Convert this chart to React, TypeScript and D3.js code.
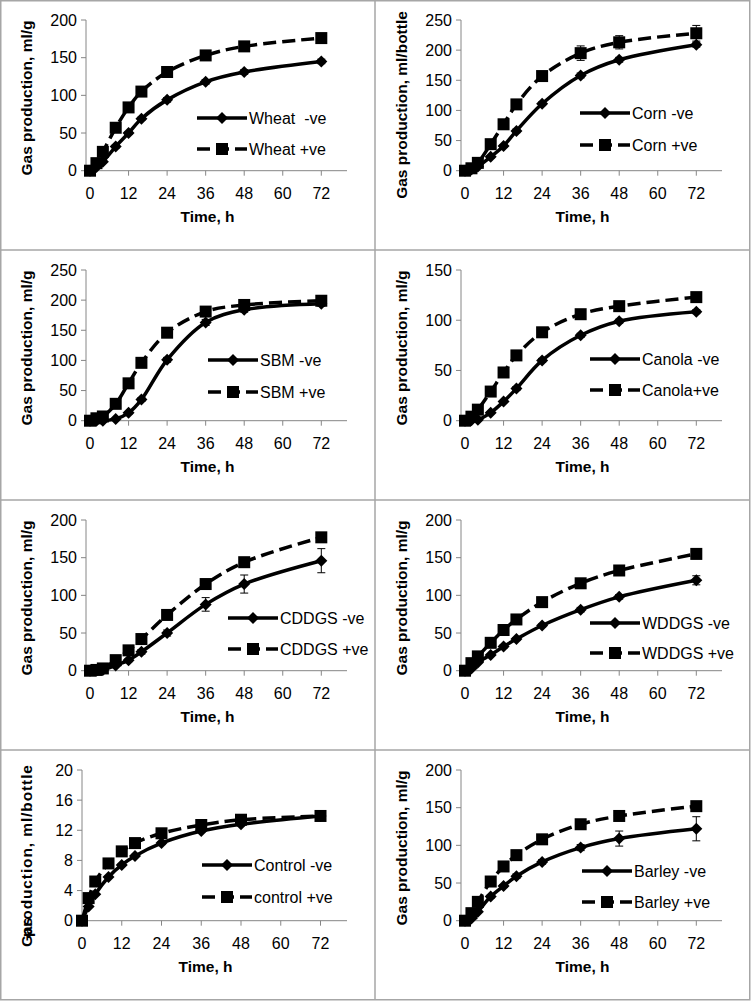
import React from "react";
import * as d3 from "d3";

const hours = [0, 2, 4, 8, 12, 16, 24, 36, 48, 72];
const xTicks = [0, 12, 24, 36, 48, 60, 72];

const wheatNeg = [0, 5, 12, 32, 50, 69, 94, 118, 131, 145];
const wheatPos = [0, 10, 25, 57, 84, 105, 131, 153, 165, 176];
const wheatNegErr = [0, 1, 1, 2, 2, 2, 3, 3, 3, 3];
const wheatPosErr = [0, 1, 1, 2, 2, 3, 3, 3, 3, 3];

const cornNeg = [0, 2, 7, 23, 41, 66, 111, 158, 184, 209];
const cornPos = [0, 4, 13, 44, 77, 110, 157, 195, 213, 228];
const cornNegErr = [0, 1, 1, 2, 2, 3, 3, 4, 4, 4];
const cornPosErr = [0, 1, 2, 3, 4, 5, 6, 12, 11, 13];

const sbmNeg = [0, 0, 0, 3, 13, 35, 101, 163, 184, 194];
const sbmPos = [0, 4, 7, 28, 62, 96, 146, 181, 192, 199];
const sbmNegErr = [0, 0, 0, 1, 2, 3, 4, 5, 4, 4];
const sbmPosErr = [0, 1, 1, 2, 3, 4, 4, 5, 4, 4];

const canolaNeg = [0, 0.5, 1, 8, 19, 32, 60, 85, 99, 108.5];
const canolaPos = [0, 4, 11, 29, 48, 65, 88, 106, 114, 123];
const canolaNegErr = [0, 0, 0, 1, 1, 2, 2, 2, 2, 2];
const canolaPosErr = [0, 1, 1, 1, 2, 2, 2, 2, 2, 3];

const cddgsNeg = [0, 0, 1, 7, 14, 25, 50, 88, 115, 146];
const cddgsPos = [0, 1, 3, 14, 27, 42, 74, 115, 144, 177];
const cddgsNegErr = [0, 0, 0, 1, 2, 3, 4, 9, 12, 16];
const cddgsPosErr = [0, 0, 1, 1, 2, 3, 4, 5, 5, 4];

const wddgsNeg = [0, 3, 11, 21, 32, 42, 60, 81, 98, 120];
const wddgsPos = [0, 10, 19, 37, 54, 68, 91, 116, 133, 155];
const wddgsNegErr = [0, 1, 1, 1, 2, 2, 2, 3, 3, 6];
const wddgsPosErr = [0, 1, 1, 2, 2, 2, 3, 3, 3, 3];

const controlNeg = [0, 1.9, 3.5, 5.8, 7.4, 8.6, 10.3, 11.9, 12.8, 13.9];
const controlPos = [0, 3.0, 5.2, 7.6, 9.2, 10.3, 11.6, 12.7, 13.4, 13.9];
const controlNegErr = [0, 0.1, 0.1, 0.1, 0.2, 0.2, 0.2, 0.2, 0.2, 0.2];
const controlPosErr = [0, 0.1, 0.1, 0.2, 0.2, 0.2, 0.2, 0.2, 0.2, 0.2];

const barleyNeg = [0, 3, 12, 32, 46, 59, 78, 97, 109, 122];
const barleyPos = [0, 10, 25, 52, 72, 87, 108, 128, 139, 152];
const barleyNegErr = [0, 1, 1, 2, 2, 3, 3, 4, 10, 16];
const barleyPosErr = [0, 1, 1, 2, 2, 3, 3, 3, 3, 3];

const panelNames = ["Wheat", "Corn", "SBM", "Canola", "CDDGS", "WDDGS", "Control", "Barley"];
const negLabels = ["Wheat  -ve", "Corn -ve", "SBM -ve", "Canola -ve", "CDDGS -ve", "WDDGS -ve", "Control -ve", "Barley -ve"];
const posLabels = ["Wheat +ve", "Corn +ve", "SBM +ve", "Canola+ve", "CDDGS +ve", "WDDGS +ve", "control +ve", "Barley +ve"];
const yTitles = [
  "Gas production, ml/g",
  "Gas production, ml/bottle",
  "Gas production, ml/g",
  "Gas production, ml/g",
  "Gas production, ml/g",
  "Gas production, ml/g",
  "Gas production, ml/bottle",
  "Gas production, ml/g",
];
const yTickSets = [
  [0, 50, 100, 150, 200],
  [0, 50, 100, 150, 200, 250],
  [0, 50, 100, 150, 200, 250],
  [0, 50, 100, 150],
  [0, 50, 100, 150, 200],
  [0, 50, 100, 150, 200],
  [0, 4, 8, 12, 16, 20],
  [0, 50, 100, 150, 200],
];
const negSeries = [wheatNeg, cornNeg, sbmNeg, canolaNeg, cddgsNeg, wddgsNeg, controlNeg, barleyNeg];
const posSeries = [wheatPos, cornPos, sbmPos, canolaPos, cddgsPos, wddgsPos, controlPos, barleyPos];
const negErrs = [wheatNegErr, cornNegErr, sbmNegErr, canolaNegErr, cddgsNegErr, wddgsNegErr, controlNegErr, barleyNegErr];
const posErrs = [wheatPosErr, cornPosErr, sbmPosErr, canolaPosErr, cddgsPosErr, wddgsPosErr, controlPosErr, barleyPosErr];

// layout (not data)
const legendPos = [
  [197, 118, 149],
  [205, 113, 145],
  [208, 110, 142],
  [215, 109, 140],
  [228, 118, 149],
  [215, 123, 153],
  [202, 115, 147],
  [207, 121, 152],
];

const FONT = "'Liberation Sans', Arial, sans-serif";
const CELL_W = 375;
const CELL_H = 250;

function diamond(r: number) {
  return `M0,${-r}L${r},0L0,${r}L${-r},0Z`;
}

function Marker({ kind, x, y }: { kind: "d" | "s"; x: number; y: number }) {
  if (kind === "d") return <path d={diamond(6)} transform={`translate(${x},${y})`} fill="#000" />;
  return <rect x={x - 6} y={y - 6} width={12} height={12} fill="#000" />;
}

function Panel({ i }: { i: number }) {
  const col = i % 2;
  const row = Math.floor(i / 2);
  const ox = col * CELL_W;
  const oy = row * CELL_H;
  const isControl = i === 6;
  const axisLeft = isControl ? 82 : 86;
  const axisRight = 347;
  const top = 20;
  const bottom = 170.7;
  const yTicks = yTickSets[i];
  const yMax = yTicks[yTicks.length - 1];
  const x = d3.scaleLinear().domain(isControl ? [0, 80] : [-1.25, 80]).range([axisLeft, axisRight]);
  const y = d3.scaleLinear().domain([0, yMax]).range([bottom, top]);
  const line = d3
    .line<number>()
    .x((_, k) => x(hours[k]))
    .y((v) => y(v))
    .curve(d3.curveCatmullRom.alpha(0.5));

  const series = [
    { vals: negSeries[i], err: negErrs[i], kind: "d" as const, dash: undefined as string | undefined },
    { vals: posSeries[i], err: posErrs[i], kind: "s" as const, dash: "13,6" },
  ];
  const [lx, ly1, ly2] = legendPos[i];
  const axisColor = "#868686";

  return (
    <g transform={`translate(${ox},${oy})`}>
      <line x1={axisLeft} x2={axisLeft} y1={top} y2={bottom} stroke={axisColor} strokeWidth={1} />
      <line x1={axisLeft} x2={axisRight} y1={bottom} y2={bottom} stroke={axisColor} strokeWidth={1} />
      {yTicks.map((t) => (
        <g key={"y" + t}>
          <line x1={axisLeft - 5} x2={axisLeft} y1={y(t)} y2={y(t)} stroke={axisColor} />
          <text x={axisLeft - 9} y={y(t)} dy="0.36em" textAnchor="end" fontSize={16} fontFamily={FONT} fill="#000">
            {t}
          </text>
        </g>
      ))}
      {xTicks.map((t) => (
        <g key={"x" + t}>
          <line x1={x(t)} x2={x(t)} y1={bottom} y2={bottom + 5} stroke={axisColor} />
          <text x={x(t)} y={199} textAnchor="middle" fontSize={16} fontFamily={FONT} fill="#000">
            {t}
          </text>
        </g>
      ))}
      <text x={(axisLeft + 321) / 2 + 4} y={222} textAnchor="middle" fontSize={15.5} fontWeight="bold" fontFamily={FONT} fill="#000">
        Time, h
      </text>
      {isControl ? (
        <g>
          <text transform={`translate(32,197) rotate(-90)`} textAnchor="start" fontSize={15.5} fontWeight="bold" fontFamily={FONT} fill="#000">
            Gas
          </text>
          <text
            transform={`translate(32,187) rotate(-90)`}
            textAnchor="start"
            fontSize={15.5}
            fontWeight="bold"
            fontFamily={FONT}
            fill="#000"
            textLength={172}
            lengthAdjust="spacing"
          >
            production, ml/bottle
          </text>
        </g>
      ) : (
        <text
          transform={`translate(32,${yTitles[i].length > 21 ? 105 : 98}) rotate(-90)`}
          textAnchor="middle"
          fontSize={15.5}
          fontWeight="bold"
          fontFamily={FONT}
          fill="#000"
        >
          {yTitles[i]}
        </text>
      )}
      {series.map((s, si) => (
        <g key={"s" + si}>
          <path d={line(s.vals) || ""} fill="none" stroke="#000" strokeWidth={3.5} strokeDasharray={s.dash} />
          {s.vals.map((v, k) => {
            const e = s.err[k];
            const cx = x(hours[k]);
            return (
              <g key={k}>
                {e > 0 && (
                  <g stroke="#000" strokeWidth={1}>
                    <line x1={cx} x2={cx} y1={y(v - e)} y2={y(v + e)} />
                    <line x1={cx - 4} x2={cx + 4} y1={y(v - e)} y2={y(v - e)} />
                    <line x1={cx - 4} x2={cx + 4} y1={y(v + e)} y2={y(v + e)} />
                  </g>
                )}
                <Marker kind={s.kind} x={cx} y={y(v)} />
              </g>
            );
          })}
        </g>
      ))}
      <line x1={lx} x2={lx + 50} y1={ly1} y2={ly1} stroke="#000" strokeWidth={3.5} />
      <Marker kind="d" x={lx + 25} y={ly1} />
      <text x={lx + 52} y={ly1} dy="0.36em" fontSize={16} fontFamily={FONT} fill="#000" style={{ whiteSpace: "pre" }}>
        {negLabels[i]}
      </text>
      <line x1={lx} x2={lx + 50} y1={ly2} y2={ly2} stroke="#000" strokeWidth={3.5} strokeDasharray="13,6" />
      <Marker kind="s" x={lx + 25} y={ly2} />
      <text x={lx + 52} y={ly2} dy="0.36em" fontSize={16} fontFamily={FONT} fill="#000" style={{ whiteSpace: "pre" }}>
        {posLabels[i]}
      </text>
    </g>
  );
}

export default function App() {
  const W = 751;
  const H = 1001;
  const border = "#a6a6a6";
  return (
    <svg width={W} height={H} style={{ position: "absolute", left: 0, top: 0, display: "block", background: "#fff" }}>
      <rect x={0} y={0} width={W} height={H} fill="#fff" />
      {panelNames.map((_, i) => (
        <Panel key={i} i={i} />
      ))}
      <rect x={0.75} y={0.75} width={749} height={999} fill="none" stroke={border} strokeWidth={1.5} />
      <line x1={375} x2={375} y1={0} y2={1000} stroke={border} strokeWidth={1.5} />
      {[250, 500, 750].map((yy) => (
        <line key={yy} x1={0} x2={750} y1={yy} y2={yy} stroke={border} strokeWidth={1.5} />
      ))}
    </svg>
  );
}
